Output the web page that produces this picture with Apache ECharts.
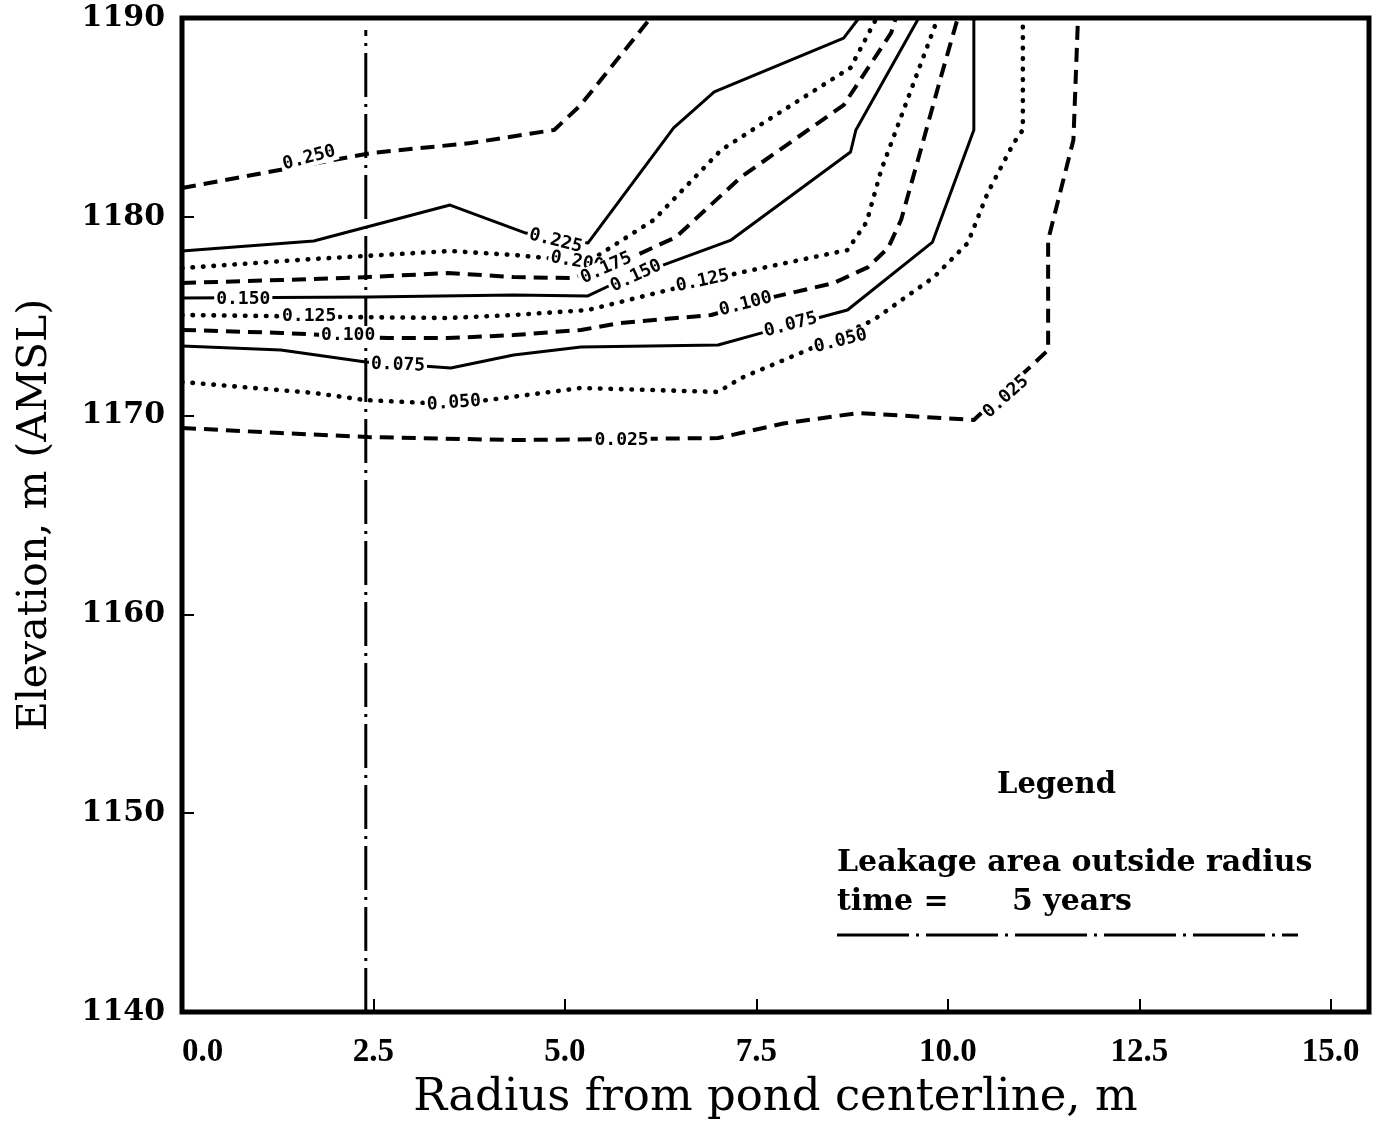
<!DOCTYPE html>
<html><head><meta charset="utf-8">
<script src="https://cdn.jsdelivr.net/npm/echarts@6/dist/echarts.min.js"></script>
<style>html,body{margin:0;padding:0;background:#fff}#c{width:1387px;height:1122px}</style>
</head><body><div id="c"></div>
<script>
// ---- data (radius m, elevation m AMSL) ----
const xMin = 0, xMax = 15.5, xStep = 2.5;
const yMin = 1140, yMax = 1190, yStep = 10;

const c250 = [[0,1181.45],[2.47,1183.21],[3.77,1183.71],[4.86,1184.37],[5.2,1185.6],[6.12,1190]];
const c225 = [[0,1178.28],[1.72,1178.78],[3.50,1180.59],[4.49,1179.18],[5.30,1178.68],[6.42,1184.47],[6.95,1186.28],[8.64,1188.99],[8.84,1190]];
const c200 = [[0,1177.42],[1.72,1177.88],[3.50,1178.28],[4.33,1178.08],[5.30,1177.73],[6.16,1179.84],[7.04,1183.36],[7.65,1184.87],[8.73,1187.5],[9.07,1190]];
const c175 = [[0,1176.67],[1.29,1176.82],[2.43,1176.97],[3.47,1177.17],[4.33,1176.97],[5.08,1176.92],[5.86,1177.93],[6.45,1178.98],[7.30,1182.0],[8.64,1185.62],[9.26,1189.25],[9.32,1190]];
const c150 = [[0,1175.92],[2.43,1175.97],[4.33,1176.07],[5.30,1176.02],[5.60,1176.57],[6.29,1177.58],[7.17,1178.83],[8.73,1183.26],[8.80,1184.37],[9.62,1190]];
const c125 = [[0,1175.06],[2.11,1174.96],[3.47,1174.91],[4.33,1175.06],[5.30,1175.31],[6.25,1176.22],[7.26,1177.17],[8.69,1178.33],[8.94,1179.74],[9.13,1182.35],[9.87,1190]];
const c100 = [[0,1174.31],[1.29,1174.16],[2.69,1173.90],[3.47,1173.90],[4.33,1174.05],[5.21,1174.31],[5.73,1174.66],[6.91,1175.06],[7.73,1175.97],[8.51,1176.67],[8.96,1177.47],[9.22,1178.43],[9.39,1179.84],[9.61,1182.86],[9.91,1187.03],[10.13,1190]];
const c075 = [[0,1173.50],[1.29,1173.30],[2.40,1172.70],[3.51,1172.39],[4.33,1173.05],[5.21,1173.45],[7.00,1173.55],[7.56,1174.15],[8.30,1174.91],[8.69,1175.31],[9.80,1178.73],[10.34,1184.37],[10.34,1190]];
const c050 = [[0,1171.69],[1.72,1171.14],[2.40,1170.78],[3.50,1170.58],[3.99,1170.78],[5.21,1171.39],[7.00,1171.19],[7.30,1171.89],[8.17,1173.30],[9.03,1174.81],[9.82,1176.97],[10.26,1178.68],[10.52,1181.2],[10.86,1183.71],[10.98,1184.37],[10.98,1190]];
const c025 = [[0,1169.38],[1.29,1169.12],[2.43,1168.92],[4.33,1168.77],[7.00,1168.87],[7.85,1169.6],[8.83,1170.13],[10.34,1169.78],[11.31,1173.30],[11.31,1178.83],[11.64,1183.86],[11.70,1190]];

const leakRadius = 2.4;               // "Leakage area outside radius", time = 5 years
const leakLine = [[leakRadius,1140],[leakRadius,1189.4]];

const contourSets = [
  {name:'0.250', data:c250, kind:'dashed'},
  {name:'0.225', data:c225, kind:'solid'},
  {name:'0.200', data:c200, kind:'dotted'},
  {name:'0.175', data:c175, kind:'dashed'},
  {name:'0.150', data:c150, kind:'solid'},
  {name:'0.125', data:c125, kind:'dotted'},
  {name:'0.100', data:c100, kind:'dashed'},
  {name:'0.075', data:c075, kind:'solid'},
  {name:'0.050', data:c050, kind:'dotted'},
  {name:'0.025', data:c025, kind:'dashed'}
];

const labelText = ['0.250','0.225','0.200','0.175','0.150','0.125','0.100','0.075','0.050','0.150','0.125','0.100','0.075','0.050','0.025','0.025'];
const labelX    = [1.66, 4.88, 5.16, 5.54, 5.93, 6.80, 7.36, 7.95, 8.60, 0.80, 1.66, 2.17, 2.82, 3.55, 5.74, 10.76];
const labelY    = [1182.96,1178.78,1177.73,1177.42,1177.02,1176.77,1175.61,1174.56,1173.75,1175.87,1175.01,1174.05,1172.55,1170.63,1168.77,1170.94];
const labelRot  = [15, -14, -10, 24, 25, 12, 15, 15, 14, 0, 0, 0, -2, 4, 0, 42];

// ---- styles ----
const styles = {
  solid:  {type:'solid', width:3},
  dashed: {type:[14,8], width:4, cap:'butt'},
  dotted: {type:[0.5,10], width:4.6, cap:'round'}
};

const series = contourSets.map(c => ({
  type:'line', name:c.name, data:c.data, symbol:'none', z:2, silent:true,
  lineStyle:Object.assign({color:'#000', join:'round'}, styles[c.kind])
}));

series.push({
  type:'line', name:'leak', data:leakLine, symbol:'none', z:2, silent:true,
  lineStyle:{color:'#000', width:3, type:[44,7,3,7]}
});

series.push({
  type:'scatter', z:5, zlevel:0, symbolSize:0, silent:true,
  itemStyle:{color:'#000', opacity:1},
  data: labelText.map((t,i) => ({
    value:[labelX[i], labelY[i]],
    label:{show:true, formatter:t, rotate:labelRot[i]}
  })),
  label:{
    show:true, position:'inside', color:'#000', opacity:1,
    textBorderWidth:0, textBorderColor:'transparent', textShadowBlur:0,
    fontFamily:'DejaVu Sans Mono', fontWeight:'bold', fontSize:18,
    backgroundColor:'#fff', padding:[0,2]
  },
  emphasis:{disabled:true}
});

const tf = (size) => 'bold ' + size + 'px "DejaVu Serif"';

const chart = echarts.init(document.getElementById('c'), null, {renderer:'canvas'});
chart.setOption({
  animation:false,
  backgroundColor:'#fff',
  grid:{left:182, top:18, right:18, bottom:110, show:true, borderColor:'#000', borderWidth:5,
        backgroundColor:'transparent', containLabel:false, outerBoundsMode:'none'},
  xAxis:{
    type:'value', min:xMin, max:xMax, interval:xStep,
    name:'Radius from pond centerline, m', nameLocation:'middle', nameGap:64,
    nameTextStyle:{fontFamily:'DejaVu Serif', fontSize:45, color:'#000'},
    axisLine:{show:false},
    axisTick:{show:true, inside:true, length:13, lineStyle:{color:'#000', width:2}},
    splitLine:{show:false},
    axisLabel:{
      margin:24, color:'#000', fontFamily:'Liberation Serif', fontWeight:'bold', fontSize:33,
      alignMinLabel:'left',
      formatter:v => (Math.abs(v/xStep - Math.round(v/xStep))<1e-6 && v<=15) ? v.toFixed(1) : ''
    }
  },
  yAxis:{
    type:'value', min:yMin, max:yMax, interval:yStep,
    name:'Elevation, m (AMSL)', nameLocation:'middle', nameGap:126,
    nameTextStyle:{fontFamily:'DejaVu Serif', fontSize:41, color:'#000'},
    axisLine:{show:false},
    axisTick:{show:true, inside:true, length:12, lineStyle:{color:'#000', width:2}},
    splitLine:{show:false},
    axisLabel:{margin:17, color:'#000', fontFamily:'DejaVu Serif', fontWeight:'bold', fontSize:30,
      formatter:v => String(v)}
  },
  graphic:[
    {type:'text', left:997, top:771, style:{text:'Legend', font:tf(29), fill:'#000'}},
    {type:'text', left:837, top:848, style:{text:'Leakage area outside radius', font:tf(30), fill:'#000'}},
    {type:'text', left:837, top:887, style:{text:'time =', font:tf(30), fill:'#000'}},
    {type:'text', left:1012, top:887, style:{text:'5 years', font:tf(30), fill:'#000'}},
    {type:'line', shape:{x1:837, y1:935, x2:1298, y2:935}, style:{stroke:'#000', lineWidth:3, lineDash:[72,7,3,7]}}
  ],
  series:series
});
</script></body></html>
